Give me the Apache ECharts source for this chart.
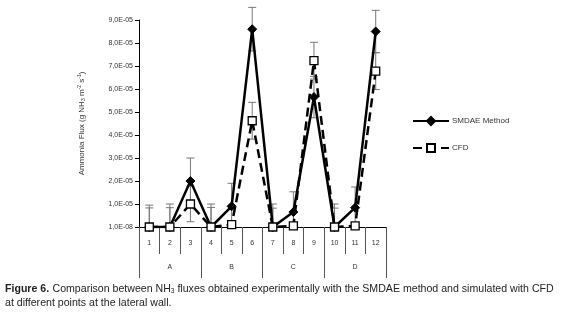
<!DOCTYPE html>
<html>
<head>
<meta charset="utf-8">
<script src="https://cdn.jsdelivr.net/npm/echarts@6/dist/echarts.min.js"></script>
<style>
  html, body { margin: 0; padding: 0; background: #fff; }
  #chart { width: 561px; height: 313px; }
</style>
</head>
<body>
<div id="chart"></div>
<script>
// points and groups
var points = ["1", "2", "3", "4", "5", "6", "7", "8", "9", "10", "11", "12"];
var groups = ["A", "B", "C", "D"];

// fluxes (g NH3 m-2 s-1) and error bar half widths
var smdae    = [0, 0, 2.0e-5, 0, 0.9e-5, 8.6e-5, 0, 0.65e-5, 5.65e-5, 0, 0.84e-5, 8.5e-5];
var smdaeErr = [0.95e-5, 1.0e-5, 1.0e-5, 1.0e-5, 1.0e-5, 0.95e-5, 1.0e-5, 0.88e-5, 0.9e-5, 1.0e-5, 0.9e-5, 0.92e-5];
var cfd      = [0, 0, 1.0e-5, 0, 0.1e-5, 4.62e-5, 0, 0.05e-5, 7.23e-5, 0, 0.05e-5, 6.78e-5];
var cfdErr   = [0.83e-5, 0.84e-5, 0.77e-5, 0.85e-5, 0, 0.8e-5, 0.82e-5, 0, 0.8e-5, 0.82e-5, 0, 0.8e-5];

var yTicks = [0, 1e-5, 2e-5, 3e-5, 4e-5, 5e-5, 6e-5, 7e-5, 8e-5, 9e-5];

var FONT = "'Liberation Sans Narrow', 'Liberation Sans', Arial, sans-serif";

function errData(vals, errs) {
  return vals.map(function (v, i) { return [i, v - errs[i], v + errs[i]]; });
}

function renderErr(params, api) {
  var lo = api.coord([api.value(0), Math.max(api.value(1), 0)]);
  var hi = api.coord([api.value(0), api.value(2)]);
  var w = 4;
  var st = { stroke: "#777", lineWidth: 1, fill: null };
  var kids = [
    { type: "line", shape: { x1: hi[0], y1: hi[1], x2: lo[0], y2: lo[1] }, style: st },
    { type: "line", shape: { x1: hi[0] - w, y1: hi[1], x2: hi[0] + w, y2: hi[1] }, style: st }
  ];
  if (api.value(1) > 0) {
    kids.push({ type: "line", shape: { x1: lo[0] - w, y1: lo[1], x2: lo[0] + w, y2: lo[1] }, style: st });
  }
  return { type: "group", children: kids };
}

function fmtY(v) {
  if (v === 0) return "1,0E-08";
  return (Math.round(v * 1e6) / 10).toFixed(1).replace(".", ",") + "E-05";
}

var chart = echarts.init(document.getElementById("chart"));
chart.setOption({
  animation: false,
  textStyle: { fontFamily: FONT },
  grid: { left: 139, right: 175, top: 20, bottom: 86 },
  legend: {
    orient: "vertical",
    left: 407,
    top: 111,
    itemWidth: 36,
    itemHeight: 10,
    itemGap: 17,
    textStyle: { fontSize: 8, color: "#333", fontFamily: FONT, padding: [0, 0, 0, -2] },
    data: ["SMDAE Method", "CFD"]
  },
  xAxis: [
    {
      type: "category",
      data: points,
      position: "bottom",
      boundaryGap: true,
      axisLine: { lineStyle: { color: "#000", width: 1 } },
      axisTick: { show: true, interval: 0, length: 27, lineStyle: { color: "#555" } },
      axisLabel: { interval: 0, fontSize: 7, color: "#333", margin: 13 },
      splitLine: { show: false }
    },
    {
      type: "category",
      data: groups,
      position: "bottom",
      boundaryGap: true,
      axisLine: { show: false },
      axisTick: { show: true, interval: 0, length: 51, lineStyle: { color: "#555" } },
      axisLabel: { interval: 0, fontSize: 7, color: "#333", margin: 37 },
      splitLine: { show: false }
    }
  ],
  yAxis: {
    type: "value",
    min: 0,
    max: yTicks[yTicks.length - 1],
    interval: 1e-5,
    name: "{n|Ammonia Flux (g NH}{s|3}{n| m}{p|-2}{n| s}{p|-1}{n|)}",
    nameLocation: "middle",
    nameGap: 52,
    nameRotate: 90,
    nameTextStyle: {
      rich: {
        n: { fontSize: 8, color: "#333", fontFamily: FONT },
        s: { fontSize: 5, color: "#333", fontFamily: FONT, padding: [4, 0, 0, 0] },
        p: { fontSize: 5, color: "#333", fontFamily: FONT, padding: [0, 0, 5, 0] }
      }
    },
    axisLine: { show: true, lineStyle: { color: "#000", width: 1 } },
    axisTick: { show: true, length: 4, lineStyle: { color: "#000" } },
    axisLabel: { fontSize: 7, color: "#333", margin: 6, formatter: fmtY },
    splitLine: { show: false }
  },
  series: [
    {
      name: "SMDAE Method",
      type: "line",
      xAxisIndex: 0,
      data: smdae,
      symbol: "diamond",
      symbolSize: 9,
      z: 4,
      lineStyle: { color: "#000", width: 2.5 },
      itemStyle: { color: "#000", borderColor: "#000", borderWidth: 1 }
    },
    {
      name: "CFD",
      type: "line",
      xAxisIndex: 0,
      data: cfd,
      symbol: "rect",
      symbolSize: 8,
      z: 5,
      lineStyle: { color: "#000", width: 2.5, type: [9, 5] },
      itemStyle: { color: "#fff", borderColor: "#000", borderWidth: 1.3 }
    },
    {
      type: "custom",
      xAxisIndex: 0,
      data: errData(smdae, smdaeErr),
      renderItem: renderErr,
      encode: { x: 0, y: [1, 2] },
      clip: false,
      silent: true,
      z: 2
    },
    {
      type: "custom",
      xAxisIndex: 0,
      data: errData(cfd, cfdErr),
      renderItem: renderErr,
      encode: { x: 0, y: [1, 2] },
      clip: false,
      silent: true,
      z: 2
    }
  ],
  graphic: [
    {
      type: "text",
      left: 5,
      top: 283,
      style: {
        text: "{b|Figure 6.} {t|Comparison between NH}{s|3}{t| fluxes obtained experimentally with the SMDAE method and simulated with CFD}\n{t|at different points at the lateral wall.}",
        rich: {
          b: { fontSize: 10.6, fontWeight: "bold", fill: "#222", fontFamily: FONT, lineHeight: 14 },
          t: { fontSize: 10.6, fill: "#222", fontFamily: FONT, lineHeight: 14 },
          s: { fontSize: 6.5, fill: "#222", fontFamily: FONT, padding: [4, 0, 0, 0], lineHeight: 14 }
        }
      }
    }
  ]
});
</script>
</body>
</html>
